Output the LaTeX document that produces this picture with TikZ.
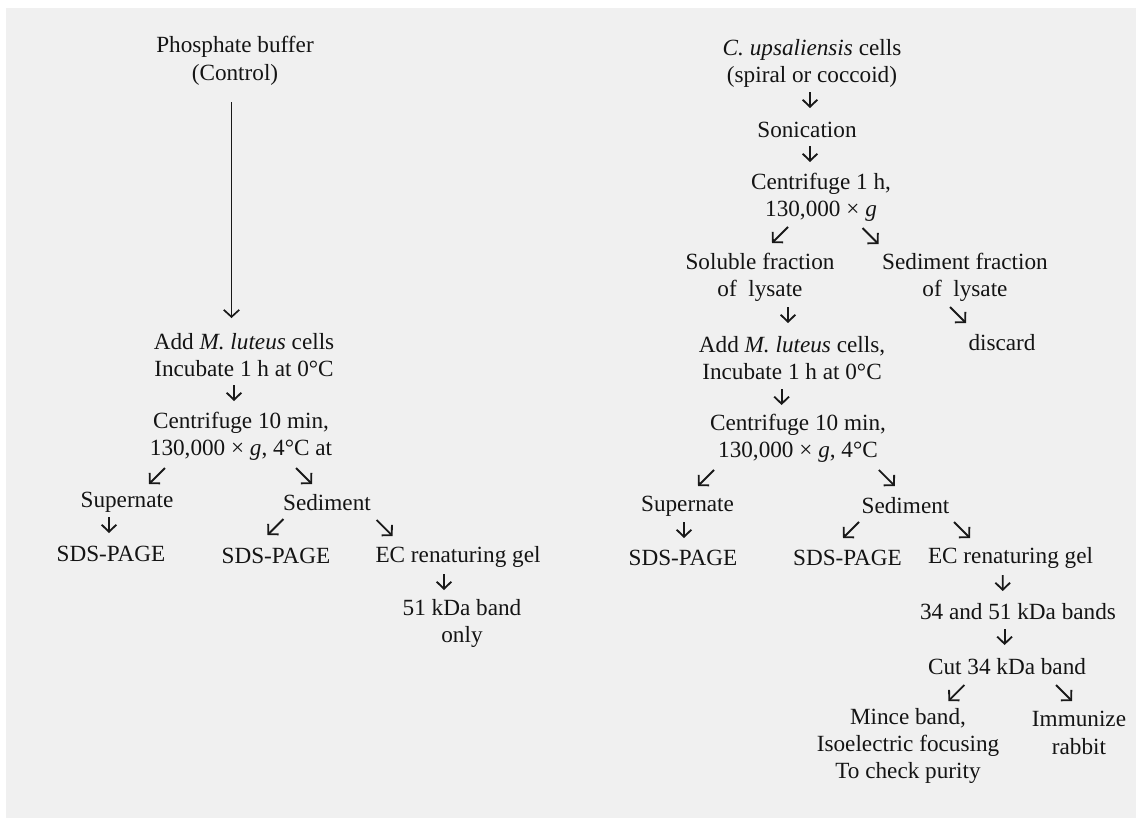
\documentclass[tikz,border=0pt]{standalone}
\usepackage{fontspec}
\setmainfont{Liberation Serif}
\usetikzlibrary{arrows.meta}

\begin{document}
\begin{tikzpicture}
     [
     x=0.025cm, y=-0.025cm,
     txt/.style={align=center, inner sep=0pt, text=black!92, font=\fontsize{16.5}{19.5}\selectfont},
     sarrow/.style={-{Straight Barb[length=5pt,width=10.5pt,line width=1.3pt]}, line width=1.3pt, draw=black!90},
     longarrow/.style={-{Straight Barb[length=5pt,width=11pt,line width=1.2pt]}, line width=0.9pt, draw=black!90},
     ]
 \fill[white] (0,0) rectangle (1141,824);
 \fill[black!6] (6,8) rectangle (1136,818);
 \node at (235,61) [txt] (buf) {Phosphate buffer\\(Control)};
 \node at (244,355) [txt] (addL) {Add \textit{M. luteus} cells\\Incubate 1 h at 0°C};
 \node at (241,436) [txt] (cenL) {Centrifuge 10 min,\\130,000 × \textit{g}, 4°C at};
 \node at (127,502) [txt] (supL) {Supernate};
 \node at (327,503) [txt] (sedL) {Sediment};
 \node at (111,554) [txt] (sdsLa) {SDS-PAGE};
 \node at (276,556) [txt] (sdsLb) {SDS-PAGE};
 \node at (458,557) [txt] (ecL) {EC renaturing gel};
 \node at (462,623.5) [txt] (bandL) {51 kDa band\\only};
 \node at (812,63.5) [txt] (cells) {\textit{C. upsaliensis} cells\\(spiral or coccoid)};
 \node at (807,130) [txt] (son) {Sonication};
 \node at (821,197.5) [txt] (cenA) {Centrifuge 1 h,\\130,000 × \textit{g}};
 \node at (760,277.5) [txt] (sol) {Soluble fraction\\of~~lysate};
 \node at (965,277.5) [txt] (sedfr) {Sediment fraction\\of~~lysate};
 \node at (792,358) [txt] (addR) {Add \textit{M. luteus} cells,\\Incubate 1 h at 0°C};
 \node at (1002,343) [txt] (disc) {discard};
 \node at (798,438.5) [txt] (cenR) {Centrifuge 10 min,\\130,000 × \textit{g}, 4°C};
 \node at (687.5,506) [txt] (supR) {Supernate};
 \node at (905.5,506) [txt] (sedR) {Sediment};
 \node at (683,558) [txt] (sdsRa) {SDS-PAGE};
 \node at (847.5,558) [txt] (sdsRb) {SDS-PAGE};
 \node at (1010.5,558) [txt] (ecR) {EC renaturing gel};
 \node at (1018,612) [txt] (bands) {34 and 51 kDa bands};
 \node at (1007,667) [txt] (cut) {Cut 34 kDa band};
 \node at (908,746) [txt] (mince) {Mince band,\\Isoelectric focusing\\To check purity};
 \node at (1079,733) [txt] (imm) {Immunize\\rabbit};

 \draw[longarrow] ([shift={(-3.5,41)}]buf.center) -- ([shift={(-12.5,-37)}]addL.center);
 \draw[sarrow] ([shift={(-10,30)}]addL.center) -- ([shift={(-7,-35)}]cenL.center);
 \draw[sarrow] ([shift={(-76,32)}]cenL.center) -- ([shift={(22,-18)}]supL.center);
 \draw[sarrow] ([shift={(55,32)}]cenL.center) -- ([shift={(-15,-19)}]sedL.center);
 \draw[sarrow] ([shift={(-18,15)}]supL.center) -- ([shift={(-2,-21)}]sdsLa.center);
 \draw[sarrow] ([shift={(-43.5,16)}]sedL.center) -- ([shift={(-8.5,-21)}]sdsLb.center);
 \draw[sarrow] ([shift={(49.6,17)}]sedL.center) -- ([shift={(-65.4,-21)}]ecL.center);
 \draw[sarrow] ([shift={(-14,17)}]ecL.center) -- ([shift={(-18,-33.5)}]bandL.center);

 \draw[sarrow] ([shift={(-2,28.5)}]cells.center) -- ([shift={(3,-22)}]son.center);
 \draw[sarrow] ([shift={(3,16)}]son.center) -- ([shift={(-11,-35.5)}]cenA.center);
 \draw[sarrow] ([shift={(-33,29.5)}]cenA.center) -- ([shift={(12,-34.5)}]sol.center);
 \draw[sarrow] ([shift={(41.5,30.5)}]cenA.center) -- ([shift={(-86.5,-33.5)}]sedfr.center);
 \draw[sarrow] ([shift={(28,29.5)}]sol.center) -- ([shift={(-4,-35)}]addR.center);
 \draw[sarrow] ([shift={(-15,29.5)}]sedfr.center) -- ([shift={(-36,-20)}]disc.center);
 \draw[sarrow] ([shift={(-10.4,31)}]addR.center) -- ([shift={(-16.4,-33.5)}]cenR.center);
 \draw[sarrow] ([shift={(-84,31.5)}]cenR.center) -- ([shift={(10.5,-20)}]supR.center);
 \draw[sarrow] ([shift={(80.8,31.5)}]cenR.center) -- ([shift={(-10.7,-20)}]sedR.center);
 \draw[sarrow] ([shift={(-3.5,16)}]supR.center) -- ([shift={(1,-20)}]sdsRa.center);
 \draw[sarrow] ([shift={(-46.5,16)}]sedR.center) -- ([shift={(-4.5,-20)}]sdsRb.center);
 \draw[sarrow] ([shift={(48.5,16)}]sedR.center) -- ([shift={(-40.5,-20)}]ecR.center);
 \draw[sarrow] ([shift={(-7.8,17)}]ecR.center) -- ([shift={(-15.3,-21)}]bands.center);
 \draw[sarrow] ([shift={(-13.4,17)}]bands.center) -- ([shift={(-2.4,-22)}]cut.center);
 \draw[sarrow] ([shift={(-42.6,18)}]cut.center) -- ([shift={(40.4,-45)}]mince.center);
 \draw[sarrow] ([shift={(49,18)}]cut.center) -- ([shift={(-7,-32)}]imm.center);
\end{tikzpicture}
\end{document}
